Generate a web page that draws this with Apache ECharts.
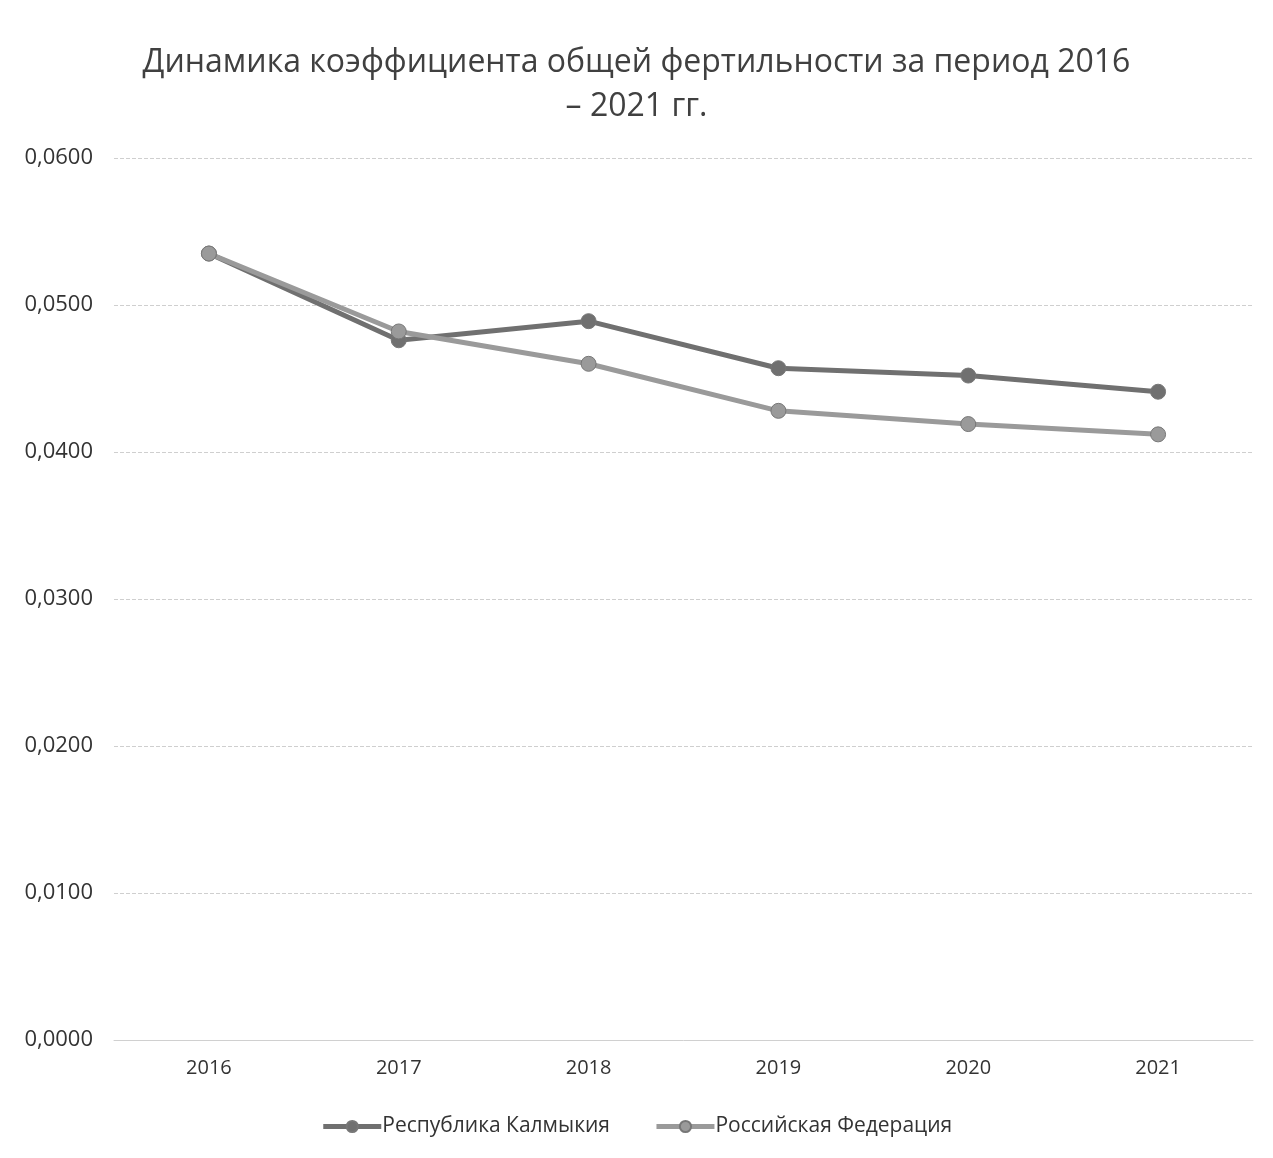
<!DOCTYPE html>
<html><head><meta charset="utf-8">
<script src="https://cdn.jsdelivr.net/npm/echarts@6/dist/echarts.min.js"></script>
<style>html,body{margin:0;padding:0;background:#fff}#c{width:1273px;height:1158px}</style>
</head><body><div id="c"></div>
<script>
const years = ['2016','2017','2018','2019','2020','2021'];
const kalmykia = [0.0535, 0.0476, 0.0489, 0.0457, 0.0452, 0.0441];
const russia = [0.0535, 0.0482, 0.0460, 0.0428, 0.0419, 0.0412];
const seriesNames = ['Республика Калмыкия', 'Российская Федерация'];
const titleText = 'Динамика коэффициента общей фертильности за период 2016\n– 2021 гг.';

const chart = echarts.init(document.getElementById('c'));
const font = '"Open Sans", "Noto Sans", sans-serif';
function mk(name, data, color) {
  return {
    name, type: 'line', data,
    symbol: 'circle', symbolSize: 15,
    lineStyle: { color, width: 5 },
    itemStyle: { color, borderColor: '#777', borderWidth: 1 },
    emphasis: { disabled: true }
  };
}
chart.setOption({
  animation: false,
  textStyle: { fontFamily: font },
  title: {
    text: titleText, left: 'center', top: 36,
    textStyle: { fontFamily: font, fontSize: 32, fontWeight: 'normal', color: '#404040', lineHeight: 44 }
  },
  grid: { left: 114, right: 20, top: 158, bottom: 118, containLabel: false },
  xAxis: {
    type: 'category', data: years, boundaryGap: true,
    axisLine: { show: true, lineStyle: { color: '#d0d0d0' } },
    axisTick: { show: false },
    axisLabel: { fontSize: 20, color: '#333', margin: 18, fontFamily: font }
  },
  yAxis: {
    type: 'value', min: 0, max: 0.06, interval: 0.01,
    axisLine: { show: false }, axisTick: { show: false },
    splitLine: { lineStyle: { color: '#cfcfcf', type: 'dashed', width: 1 } },
    axisLabel: { fontSize: 22, color: '#333', margin: 21, fontFamily: font,
      formatter: v => v.toFixed(4).replace('.', ',') }
  },
  legend: {
    bottom: 16, left: 'center', itemGap: 44, itemWidth: 58, itemHeight: 14,
    lineStyle: { width: 5 },
    textStyle: { fontSize: 21, color: '#333', fontFamily: font, padding: [0,0,0,-4] },
    data: seriesNames
  },
  series: [
    mk(seriesNames[0], kalmykia, '#707070'),
    mk(seriesNames[1], russia, '#9a9a9a')
  ]
});
</script></body></html>
